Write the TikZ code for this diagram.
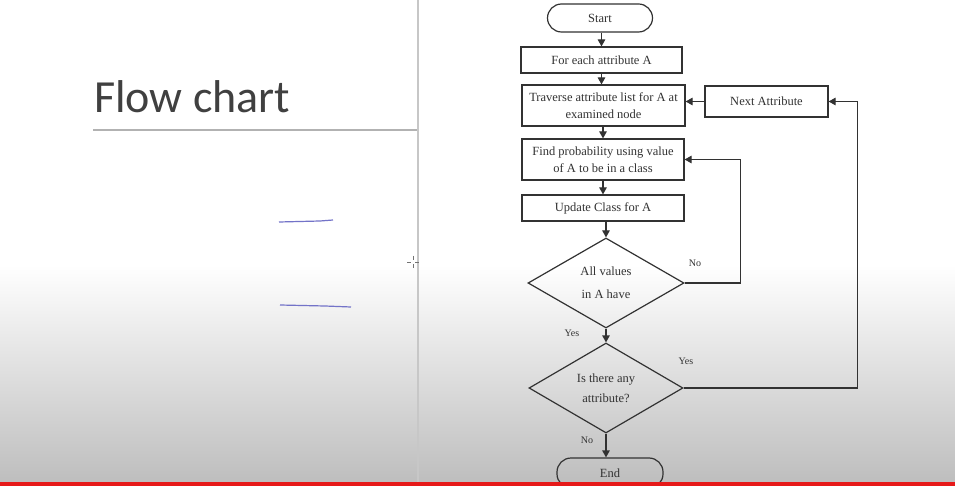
\documentclass[tikz,border=0pt]{standalone}
\usepackage{fontspec}
\setmainfont{Liberation Serif}
\newfontfamily\titlefont{Carlito}
\usetikzlibrary{arrows.meta,shapes.geometric}
\definecolor{inkc}{RGB}{50,50,50}
\definecolor{slidegray}{RGB}{190,190,190}
\definecolor{penblue}{RGB}{115,115,200}
\definecolor{barred}{RGB}{230,25,25}
\begin{document}
\begin{tikzpicture}[x=1pt,y=-1pt,
  procbox/.style={draw=inkc, line width=1.2pt, inner sep=0pt, align=center,
    font=\fontsize{12.5}{17}\selectfont, text=inkc},
  term/.style={procbox, rounded corners=14pt},
  dec/.style={procbox, shape=diamond, aspect=1.7},
  arr/.style={draw=inkc, line width=1.2pt, -{Triangle[length=7pt,width=7.5pt]}},
  lbl/.style={font=\fontsize{10}{12}\selectfont, text=inkc, inner sep=0pt}
]
\useasboundingbox (0,0) rectangle (955,486);
% background
\fill[white] (0,0) rectangle (955,486);
\shade[top color=white, bottom color=slidegray] (0,265) rectangle (955,482);
% slide decorations
\node[anchor=base west, inner sep=0pt, text={rgb,255:red,64;green,64;blue,64},
  font=\titlefont\fontsize{46}{50}\selectfont] (title) at (94,113) {Flow chart};
\draw[black!30, line width=1.2pt] (93,130) -- (418,130);
\draw[black!22, line width=1.5pt] (418,0) -- (418,482);
\draw[penblue, line width=1.2pt] (279,222) -- (320,221) -- (333,220);
\draw[penblue, line width=1.2pt] (280,305) -- (325,306) -- (351,307);
\draw[black!55, line width=0.8pt] (407,262) -- (411,262) (415,262) -- (419,262)
  (413,256) -- (413,260) (413,264) -- (413,268);
% flowchart nodes
\node[term, minimum width=105pt, minimum height=28pt] (start) at (600,18) {Start};
\node[procbox, minimum width=161pt, minimum height=26pt] (b1) at (601.5,60) {For each attribute A};
\node[procbox, minimum width=163pt, minimum height=41pt] (b2) at (603.5,105.5) {Traverse attribute list for A at\\examined node};
\node[procbox, minimum width=123pt, minimum height=31pt] (next) at (766.5,101.5) {Next Attribute};
\node[procbox, minimum width=162pt, minimum height=41pt] (b3) at (603,159.5) {Find probability using value\\of A to be in a class};
\node[procbox, minimum width=162pt, minimum height=26pt] (b4) at (603,208) {Update Class for A};
\node[dec, minimum width=156pt, minimum height=90pt] (d1) at (606,283) {All values\\[6pt]in A have};
\node[dec, minimum width=154pt, minimum height=90pt] (d2) at (606,388) {Is there any\\[3pt]attribute?};
\node[term, minimum width=106pt, minimum height=30pt] (end) at (610,473) {End};
% labels
\node[lbl] (lno1) at (695,263) {No};
\node[lbl] (lyes1) at (572,333) {Yes};
\node[lbl] (lyes2) at (686,361) {Yes};
\node[lbl] (lno2) at (587,440) {No};
% connectors
\draw[arr] (start.south -| b1.north) -- (b1.north);
\draw[arr] (b1.south) -- (b1.south |- b2.north);
\draw[arr] (b2.south -| b3.north) -- (b3.north);
\draw[arr] (b3.south) -- (b4.north);
\draw[arr] (b4.south -| d1.north) -- (d1.north);
\draw[arr] (d1.south) -- (d2.north);
\draw[arr] (d2.south) -- (d2.south |- end.north);
\draw[arr] (d1.east) -- ++(56,0) |- (b3.east);
\draw[arr] (d2.east) -- ++(174,0) |- (next.east);
\draw[arr] (next.west) -- (next.west -| b2.east);
% bottom bar
\fill[barred] (0,482) rectangle (955,486);
\end{tikzpicture}
\end{document}
